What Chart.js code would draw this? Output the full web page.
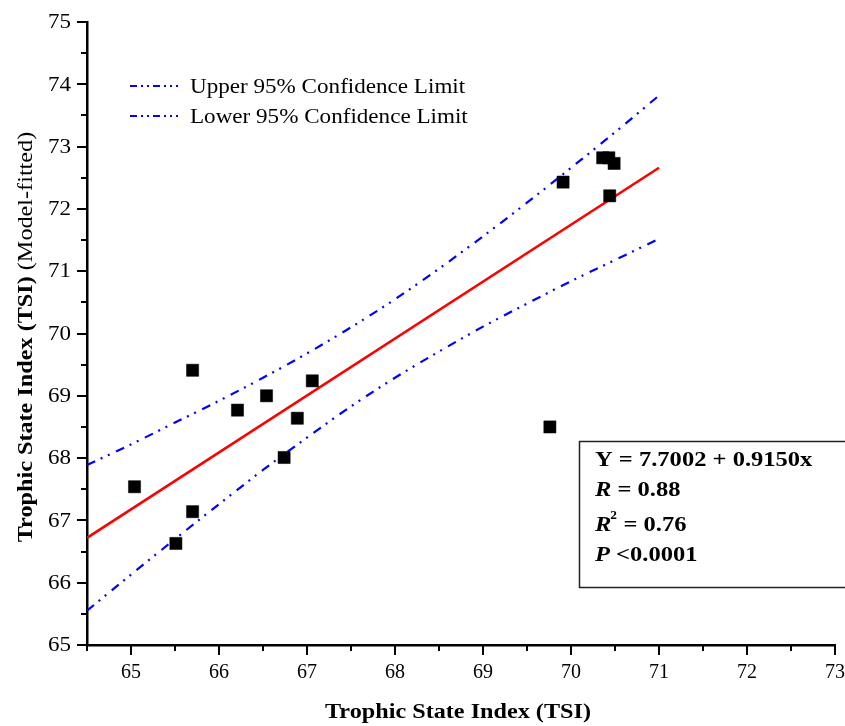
<!DOCTYPE html>
<html>
<head>
<meta charset="utf-8">
<script src="https://cdn.jsdelivr.net/npm/chart.js@4.4.0/dist/chart.umd.min.js"></script>
<style>
html,body{margin:0;padding:0;background:#fff;}
canvas{display:block;}
</style>
</head>
<body>
<canvas id="c" width="845" height="726"></canvas>
<script>
// ---- data ----
const obsX = [65.04, 65.51, 65.70, 65.70, 66.21, 66.54, 66.89, 66.74, 67.06, 69.76, 69.91, 70.36, 70.43, 70.49, 70.44];
const obsY = [67.54, 66.63, 67.14, 69.41, 68.77, 69.00, 68.64, 68.01, 69.24, 68.50, 72.43, 72.82, 72.82, 72.73, 72.21];
const fitX = [64.5, 71.0];
const fitY = [66.72, 72.66];
const bandX = [64.5, 65.0, 65.5, 66.0, 66.5, 67.0, 67.5, 68.0, 68.5, 69.0, 69.5, 70.0, 70.5, 71.0];
const upperY = [67.89, 68.22, 68.57, 68.92, 69.29, 69.68, 70.10, 70.55, 71.04, 71.56, 72.10, 72.66, 73.23, 73.82];
const lowerY = [65.55, 66.13, 66.70, 67.26, 67.81, 68.33, 68.83, 69.29, 69.71, 70.11, 70.48, 70.84, 71.18, 71.52];
const xTicks = [65, 66, 67, 68, 69, 70, 71, 72, 73];
const yTicks = [65, 66, 67, 68, 69, 70, 71, 72, 73, 74, 75];
const legendLabels = ["Upper 95% Confidence Limit", "Lower 95% Confidence Limit"];
const xTitle = "Trophic State Index (TSI)";
const yTitleBold = "Trophic State Index (TSI)";
const yTitleRegular = " (Model-fitted)";
const statsLines = ["Y = 7.7002 + 0.9150x", "R = 0.88", "R2 = 0.76", "P <0.0001"];

const SERIF = '"Liberation Serif", "Times New Roman", serif';
const DASH = [9, 6, 2, 6, 2, 7];
const BLUE = '#0000ff';

const toPts = (xs, ys) => xs.map((x, i) => ({x: x, y: ys[i]}));

function stretchText(ctx, text, x, y, sx, align) {
  ctx.save();
  ctx.translate(x, y);
  ctx.scale(sx, 1);
  ctx.textAlign = align || 'left';
  ctx.fillText(text, 0, 0);
  ctx.restore();
}

const decor = {
  id: 'decor',
  afterDraw(chart) {
    const ctx = chart.ctx;
    const xs = chart.scales.x, ys = chart.scales.y;
    const ca = chart.chartArea;
    ctx.save();
    ctx.strokeStyle = '#000';
    ctx.fillStyle = '#000';
    ctx.lineWidth = 2;
    // y ticks (major + minor)
    for (let v = ys.min; v <= ys.max + 1e-9; v += 0.5) {
      const major = Math.abs(v - Math.round(v)) < 1e-6;
      const py = Math.round(ys.getPixelForValue(v));
      ctx.beginPath();
      ctx.moveTo(ca.left - (major ? 10 : 6), py);
      ctx.lineTo(ca.left, py);
      ctx.stroke();
    }
    // x ticks
    for (let v = xs.min; v <= xs.max + 1e-9; v += 0.5) {
      const major = Math.abs(v - Math.round(v)) < 1e-6;
      const px = Math.round(xs.getPixelForValue(v));
      ctx.beginPath();
      ctx.moveTo(px, ca.bottom);
      ctx.lineTo(px, ca.bottom + (major ? 10 : 6));
      ctx.stroke();
    }
    // tick labels
    ctx.font = '20px ' + SERIF;
    ctx.textBaseline = 'middle';
    yTicks.forEach(v => {
      stretchText(ctx, String(v), 71, ys.getPixelForValue(v) + 1, 1.15, 'right');
    });
    xTicks.forEach(v => {
      stretchText(ctx, String(v), xs.getPixelForValue(v), 673, 1.0, 'center');
    });
    // axis titles
    ctx.font = 'bold 22px ' + SERIF;
    ctx.textBaseline = 'middle';
    stretchText(ctx, xTitle, 458, 712, 1.1, 'center');
    // y title rotated
    ctx.save();
    ctx.translate(26, 337);
    ctx.rotate(-Math.PI / 2);
    ctx.scale(1.1, 1);
    ctx.font = 'bold 22px ' + SERIF;
    const wb = ctx.measureText(yTitleBold).width;
    ctx.font = '22px ' + SERIF;
    const wr = ctx.measureText(yTitleRegular).width;
    const total = wb + wr;
    ctx.textBaseline = 'middle';
    ctx.textAlign = 'left';
    ctx.font = 'bold 22px ' + SERIF;
    ctx.fillText(yTitleBold, -total / 2, 0);
    ctx.font = '22px ' + SERIF;
    ctx.fillText(yTitleRegular, -total / 2 + wb, 0);
    ctx.restore();
    // legend
    const legY = [86, 116];
    legendLabels.forEach((t, i) => {
      ctx.save();
      ctx.strokeStyle = BLUE;
      ctx.lineWidth = 2;
      ctx.setLineDash([7, 4, 2, 4, 2, 4]);
      ctx.beginPath();
      ctx.moveTo(130, legY[i]);
      ctx.lineTo(178, legY[i]);
      ctx.stroke();
      ctx.restore();
      ctx.font = '21px ' + SERIF;
      ctx.textBaseline = 'middle';
      ctx.fillStyle = '#000';
      stretchText(ctx, t, 190, legY[i] + 1, 1.1, 'left');
    });
    // stats box
    ctx.save();
    ctx.strokeStyle = '#222';
    ctx.lineWidth = 1.5;
    ctx.strokeRect(579.5, 441.5, 300, 146);
    ctx.restore();
    ctx.textBaseline = 'alphabetic';
    const bx = 595;
    const base = [466, 496, 531, 561];
    const sx = 1.115;
    // line 1
    ctx.font = 'bold 22px ' + SERIF;
    stretchText(ctx, statsLines[0], bx, base[0], sx, 'left');
    // line 2: italic R
    ctx.font = 'italic bold 22px ' + SERIF;
    let w = ctx.measureText('R').width * sx;
    stretchText(ctx, 'R', bx, base[1], sx, 'left');
    ctx.font = 'bold 22px ' + SERIF;
    stretchText(ctx, statsLines[1].slice(1), bx + w, base[1], sx, 'left');
    // line 3: R^2
    ctx.font = 'italic bold 22px ' + SERIF;
    stretchText(ctx, 'R', bx, base[2], sx, 'left');
    ctx.font = 'bold 12px ' + SERIF;
    stretchText(ctx, statsLines[2].charAt(1), bx + w - 1, base[2] - 12, sx, 'left');
    ctx.font = 'bold 22px ' + SERIF;
    stretchText(ctx, statsLines[2].slice(2), bx + w + 6, base[2], sx, 'left');
    // line 4: italic P
    ctx.font = 'italic bold 22px ' + SERIF;
    const wp = ctx.measureText('P').width * sx;
    stretchText(ctx, 'P', bx, base[3], sx, 'left');
    ctx.font = 'bold 22px ' + SERIF;
    stretchText(ctx, statsLines[3].slice(1), bx + wp, base[3], sx, 'left');
    ctx.restore();
  }
};

new Chart(document.getElementById('c'), {
  type: 'scatter',
  data: {
    datasets: [
      {
        label: 'Observed',
        data: toPts(obsX, obsY),
        pointStyle: 'rect',
        pointRadius: 8.6,
        pointBackgroundColor: '#000',
        pointBorderColor: '#000',
        pointBorderWidth: 0.5,
        order: 0
      },
      {
        label: 'Fit',
        data: toPts(fitX, fitY),
        showLine: true,
        borderColor: '#ff0000',
        borderWidth: 2.5,
        pointRadius: 0,
        order: 1
      },
      {
        label: legendLabels[0],
        data: toPts(bandX, upperY),
        showLine: true,
        borderColor: BLUE,
        borderWidth: 2.2,
        borderDash: DASH,
        cubicInterpolationMode: 'monotone',
        pointRadius: 0,
        order: 2
      },
      {
        label: legendLabels[1],
        data: toPts(bandX, lowerY),
        showLine: true,
        borderColor: BLUE,
        borderWidth: 2.2,
        borderDash: DASH,
        cubicInterpolationMode: 'monotone',
        pointRadius: 0,
        order: 2
      }
    ]
  },
  options: {
    responsive: false,
    animation: false,
    devicePixelRatio: 1,
    layout: {padding: {top: 22, right: 10, left: 0, bottom: 0}},
    plugins: {legend: {display: false}, tooltip: {enabled: false}},
    scales: {
      x: {
        type: 'linear', min: 64.5, max: 73,
        ticks: {display: false},
        grid: {display: false},
        border: {display: true, color: '#000', width: 2.5},
        afterFit(s) { s.height = 81; }
      },
      y: {
        type: 'linear', min: 65, max: 75,
        ticks: {display: false},
        grid: {display: false},
        border: {display: true, color: '#000', width: 2.5},
        afterFit(s) { s.width = 87; }
      }
    }
  },
  plugins: [decor]
});
</script>
</body>
</html>
